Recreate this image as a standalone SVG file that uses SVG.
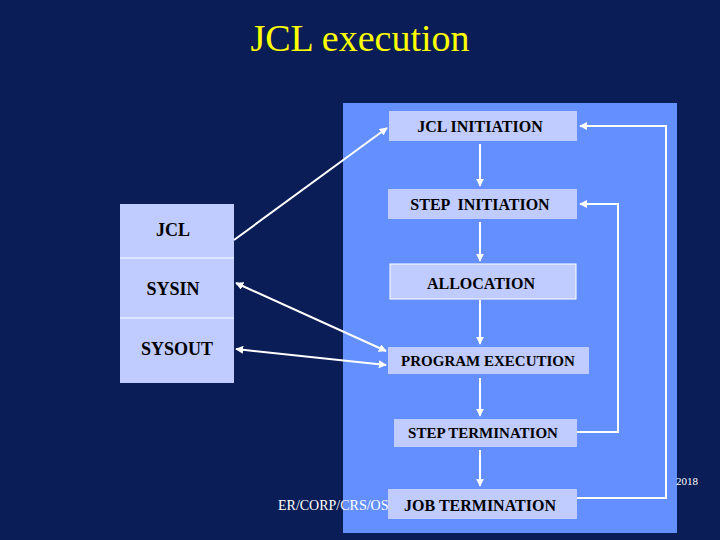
<svg xmlns="http://www.w3.org/2000/svg" width="720" height="540" viewBox="0 0 720 540">
<defs>
<style>
.b{fill:#c0cbff}
.t{font-family:"Liberation Serif",serif;font-weight:bold;font-size:16px;fill:#000;text-anchor:middle}
.c{stroke:#fff;stroke-width:2;fill:none}
</style>
<marker id="a" viewBox="0 0 10 10" refX="9" refY="5" markerWidth="4" markerHeight="4" orient="auto-start-reverse"><path d="M0 0L10 5L0 10z" fill="#fff"/></marker>
</defs>
<rect width="720" height="540" fill="#0a1d56"/>
<text x="360" y="51" font-family="Liberation Serif,serif" font-size="38" fill="#ffff00" text-anchor="middle">JCL execution</text>
<rect x="343" y="103" width="334" height="430" fill="#6490ff"/>
<text x="278" y="510" font-family="Liberation Serif,serif" font-size="14" fill="#fff">ER/CORP/CRS/OS02/003-1</text>
<text x="698" y="485" font-family="Liberation Serif,serif" font-size="11" fill="#fff" text-anchor="end">2018</text>
<g id="data">
<rect class="b" x="120" y="204" width="114" height="179"/>
<path d="M120 258H234M120 318H234" stroke="#fff" stroke-width="1"/>
<text class="t" x="173" y="236" style="font-size:18px">JCL</text>
<text class="t" x="173" y="295" style="font-size:18px">SYSIN</text>
<text class="t" x="177" y="355" style="font-size:18px">SYSOUT</text>
</g>
<g id="jclinit"><rect class="b" x="389" y="111" width="188" height="30"/><text class="t" x="480" y="132">JCL INITIATION</text></g>
<g id="stepinit"><rect class="b" x="388" y="189" width="189" height="30"/><text class="t" x="480" y="210" xml:space="preserve">STEP  INITIATION</text></g>
<g id="alloc"><rect class="b" x="390" y="264" width="186" height="35" stroke="#fff" stroke-width="1"/><text class="t" x="481" y="289">ALLOCATION</text></g>
<g id="progexec"><rect class="b" x="388" y="347" width="201" height="27"/><text class="t" x="488" y="366" style="font-size:15px">PROGRAM EXECUTION</text></g>
<g id="stepterm"><rect class="b" x="394" y="419" width="183" height="28"/><text class="t" x="483" y="438" style="font-size:15px">STEP TERMINATION</text></g>
<g id="jobterm"><rect class="b" x="388" y="489" width="189" height="30"/><text class="t" x="480" y="511">JOB TERMINATION</text></g>
<g id="connectors">
<path class="c" d="M480 144V186" marker-end="url(#a)"/>
<path class="c" d="M480 222V261" marker-end="url(#a)"/>
<path class="c" d="M480 300V344" marker-end="url(#a)"/>
<path class="c" d="M480 378V416" marker-end="url(#a)"/>
<path class="c" d="M480 450V486" marker-end="url(#a)"/>
<path class="c" d="M577 432H618V204H580" marker-end="url(#a)"/>
<path class="c" d="M577 498H666V126H580" marker-end="url(#a)"/>
<path class="c" d="M234 240L387 128" marker-end="url(#a)"/>
<path class="c" d="M236 283L386 351" marker-start="url(#a)" marker-end="url(#a)"/>
<path class="c" d="M236 349L386 365" marker-start="url(#a)" marker-end="url(#a)"/>
</g>
</svg>
